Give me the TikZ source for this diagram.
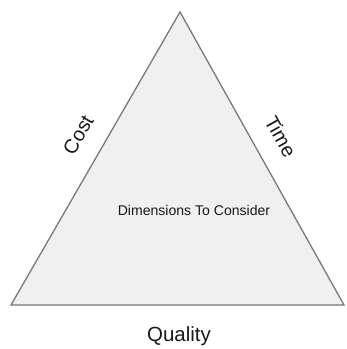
\documentclass[tikz,border=0pt]{standalone}
\usepackage{fontspec}
\setmainfont{Liberation Sans}
\usetikzlibrary{positioning}

\definecolor{triFill}{RGB}{240,240,240}
\definecolor{triEdge}{RGB}{120,120,120}
\definecolor{txt}{RGB}{25,25,25}

\tikzset{
	side/.style={font=\fontsize{17}{19}\selectfont,color=txt,sloped,above=0.46cm},
	inside/.style={font=\fontsize{12}{14}\selectfont,color=txt}
}

\begin{document}
\begin{tikzpicture}[x=0.03cm,y=-0.03cm,thick]

\useasboundingbox (0,0) rectangle (346,349);

\coordinate (top) at (180,12);
\coordinate (left) at (11,305);
\coordinate (right) at (344,305);

\filldraw[fill=triFill,draw=triEdge,line width=1.1pt,line join=miter]
	(left) -- (top) -- (right) -- cycle;

\path (left) -- (top) node[side,pos=0.535] (cost) {Cost};
\path (top) -- (right) node[side,pos=0.47] (time) {Time};

\node[inside] (dims) at (194,210) {Dimensions To Consider};

\node[font=\fontsize{17.5}{19}\selectfont,color=txt] (quality) at (179,336) {Quality};

\end{tikzpicture}
\end{document}
